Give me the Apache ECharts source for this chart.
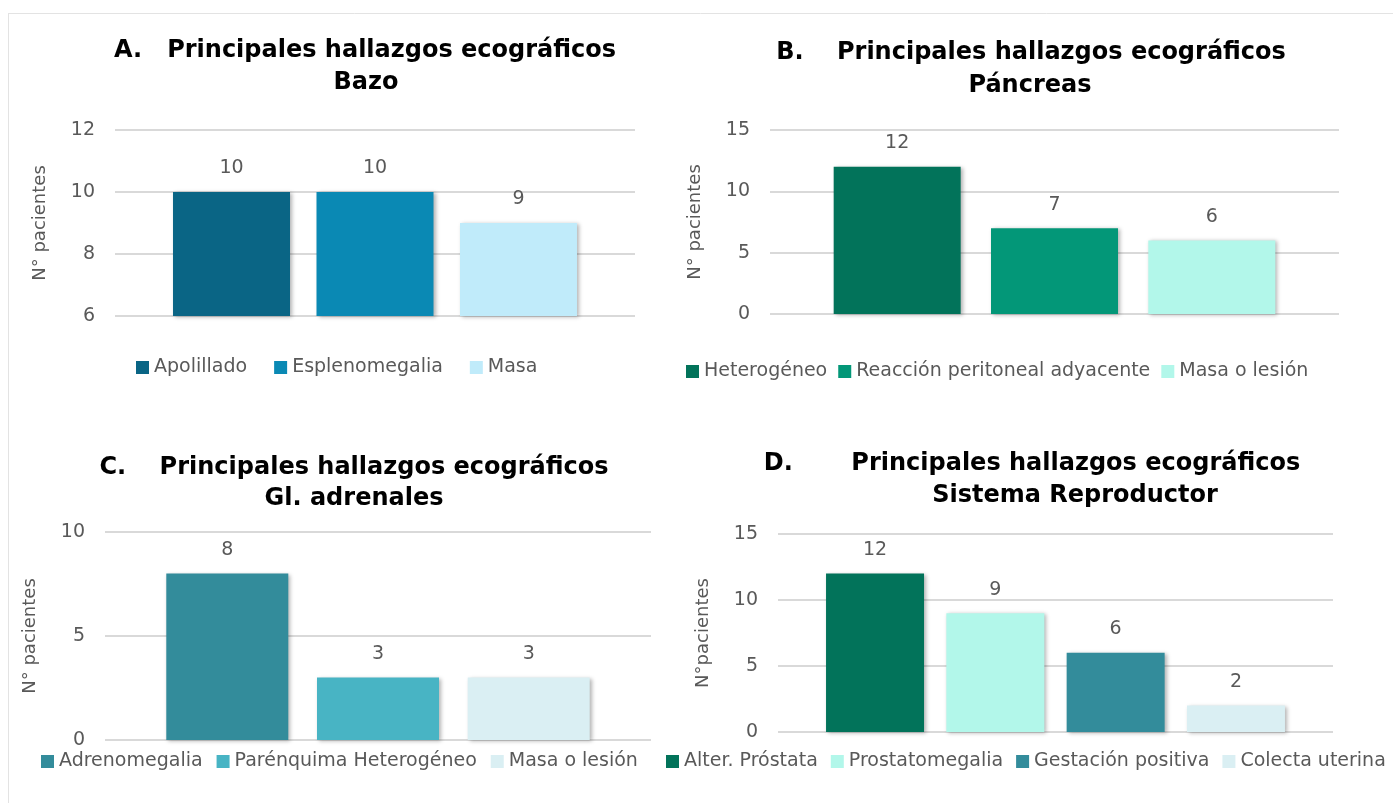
<!DOCTYPE html>
<html>
<head>
<meta charset="utf-8">
<script src="https://cdn.jsdelivr.net/npm/echarts@6/dist/echarts.min.js"></script>
<style>
  html, body { margin: 0; padding: 0; background: #fff; }
  #chart { width: 1393px; height: 803px; }
</style>
</head>
<body>
<div id="chart"></div>
<script>
// datos de cada panel
const catA = ['Apolillado', 'Esplenomegalia', 'Masa']
const valA = [10, 10, 9]
const colA = ['#0a6585', '#0a89b4', '#c0ebfa']

const catB = ['Heterogéneo', 'Reacción peritoneal adyacente', 'Masa o lesión']
const valB = [12, 7, 6]
const colB = ['#02735a', '#039778', '#b2f7ea']

const catC = ['Adrenomegalia', 'Parénquima Heterogéneo', 'Masa o lesión']
const valC = [8, 3, 3]
const colC = ['#338c9b', '#48b4c4', '#daeff3']

const catD = ['Alter. Próstata', 'Prostatomegalia', 'Gestación positiva', 'Colecta uterina']
const valD = [12, 9, 6, 2]
const colD = ['#02735a', '#b2f7ea', '#338c9b', '#daeff3']

const ticksA = { min: 6, max: 12, interval: 2 }
const ticksB = { min: 0, max: 15, interval: 5 }
const ticksC = { min: 0, max: 10, interval: 5 }
const ticksD = { min: 0, max: 15, interval: 5 }

const gray = '#595959'
const font = 'DejaVu Sans'
const fs = 19

// paneles: área de trazado, ancho visible del eje x (en categorías) y ancho de barra
const panels = [
  { cat: catA, val: valA, col: colA, ticks: ticksA, name: 'N° pacientes',
    grid: { left: 115, top: 130, width: 520, height: 186 }, span: 3.624, barWidth: 117,
    legend: { left: 136, top: 358, itemGap: 27 } },
  { cat: catB, val: valB, col: colB, ticks: ticksB, name: 'N° pacientes',
    grid: { left: 770, top: 130, width: 569, height: 184 }, span: 3.617, barWidth: 127,
    legend: { left: 686, top: 362, itemGap: 11 } },
  { cat: catC, val: valC, col: colC, ticks: ticksC, name: 'N° pacientes',
    grid: { left: 105, top: 532, width: 546, height: 208 }, span: 3.623, barWidth: 122,
    legend: { left: 41, top: 752, itemGap: 14 } },
  { cat: catD, val: valD, col: colD, ticks: ticksD, name: 'N°pacientes',
    grid: { left: 778, top: 534, width: 555, height: 198 }, span: 4.613, barWidth: 98,
    legend: { left: 666, top: 752, itemGap: 13 } }
]

const titles = [
  { text: 'A.   Principales hallazgos ecográficos', x: 365, y: 50 },
  { text: 'Bazo', x: 366, y: 82 },
  { text: 'B.    Principales hallazgos ecográficos', x: 1031, y: 52 },
  { text: 'Páncreas', x: 1030, y: 85 },
  { text: 'C.    Principales hallazgos ecográficos', x: 354, y: 467 },
  { text: 'Gl. adrenales', x: 354, y: 498 },
  { text: 'D.       Principales hallazgos ecográficos', x: 1032, y: 463 },
  { text: 'Sistema Reproductor', x: 1075, y: 495 }
]

const grid = [], xAxis = [], yAxis = [], legend = [], series = []

panels.forEach((p, gi) => {
  grid.push(p.grid)
  const mid = (p.cat.length - 1) / 2
  // eje x numérico oculto para centrar las barras como en Excel
  xAxis.push({
    type: 'value', gridIndex: gi, show: false,
    min: mid - p.span / 2, max: mid + p.span / 2
  })
  yAxis.push({
    type: 'value', gridIndex: gi,
    min: p.ticks.min, max: p.ticks.max, interval: p.ticks.interval,
    name: p.name, nameLocation: 'middle', nameGap: 66,
    nameTextStyle: { color: gray, fontSize: 18, fontFamily: font },
    axisLine: { show: false }, axisTick: { show: false },
    axisLabel: { color: gray, fontSize: fs, fontFamily: font, margin: 20 },
    splitLine: { lineStyle: { color: '#d9d9d9', width: 2 } }
  })
  legend.push({
    left: p.legend.left, top: p.legend.top, itemGap: p.legend.itemGap,
    padding: 0, itemWidth: 13, itemHeight: 13, icon: 'rect',
    textStyle: { color: gray, fontSize: fs, fontFamily: font },
    data: p.cat.map((c, i) => ({ name: c, itemStyle: { color: p.col[i] } }))
  })
  p.cat.forEach((c, i) => {
    series.push({
      type: 'bar', name: c, xAxisIndex: gi, yAxisIndex: gi,
      stack: 'g' + gi, barWidth: p.barWidth,
      data: [[i, p.val[i]]],
      itemStyle: {
        color: p.col[i],
        shadowColor: 'rgba(0,0,0,0.3)', shadowBlur: 4, shadowOffsetX: 2, shadowOffsetY: 1
      },
      label: {
        show: true, position: 'top', distance: 14,
        color: gray, fontSize: fs, fontFamily: font,
        formatter: (d) => d.value[1]
      }
    })
  })
})

const myChart = echarts.init(document.getElementById('chart'))
myChart.setOption({
  animation: false,
  title: titles.map(t => ({
    text: t.text, left: t.x, top: t.y - 11, textAlign: 'center', padding: 0,
    textStyle: { color: '#000', fontSize: 24, fontWeight: 'bold', fontFamily: font }
  })),
  graphic: [
    { type: 'line', shape: { x1: 8, y1: 13.5, x2: 1393, y2: 13.5 }, style: { stroke: '#e3e3e3', lineWidth: 1 } },
    { type: 'line', shape: { x1: 8.5, y1: 13, x2: 8.5, y2: 803 }, style: { stroke: '#e3e3e3', lineWidth: 1 } }
  ],
  grid, xAxis, yAxis, legend, series
})
</script>
</body>
</html>
